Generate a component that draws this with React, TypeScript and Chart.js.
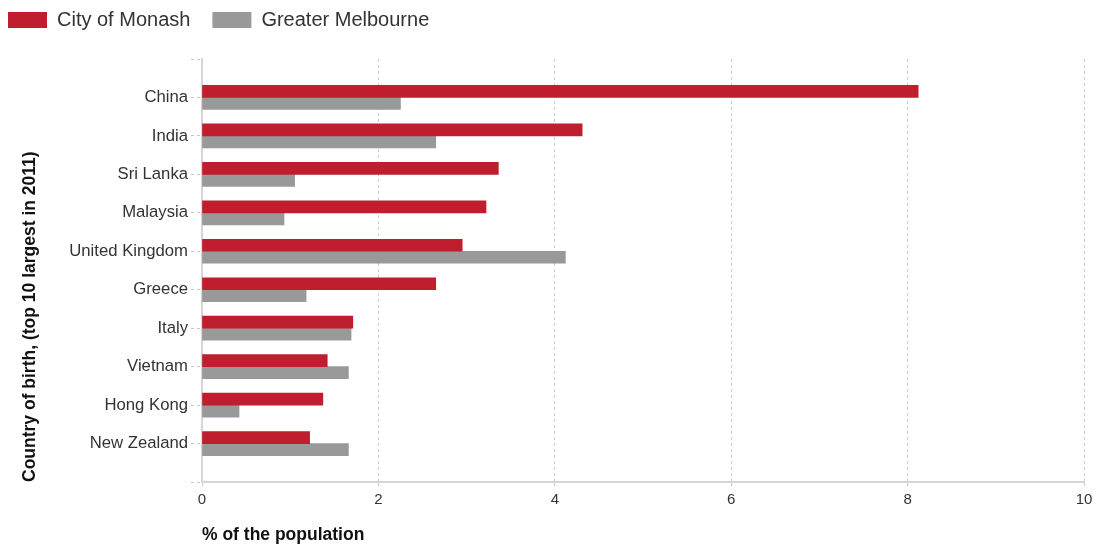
import React, { useEffect, useRef } from 'react';
import { Chart, registerables } from 'chart.js';

Chart.register(...registerables);
Chart.defaults.font.family = "'Liberation Sans', Arial, sans-serif";

const categories = ['China', 'India', 'Sri Lanka', 'Malaysia', 'United Kingdom', 'Greece', 'Italy', 'Vietnam', 'Hong Kong', 'New Zealand'];
const monash = [8.12, 4.31, 3.36, 3.22, 2.95, 2.65, 1.71, 1.42, 1.37, 1.22];
const melbourne = [2.25, 2.65, 1.05, 0.93, 4.12, 1.18, 1.69, 1.66, 0.42, 1.66];
const seriesNames = ['City of Monash', 'Greater Melbourne'];
const seriesColors = ['#BE1E2D', '#999999'];
const xMin = 0;
const xMax = 10;
const xStep = 2;
const xTitle = '% of the population';
const yTitle = 'Country of birth, (top 10 largest in 2011)';

const legendGap = {
  id: 'legendGap',
  beforeLayout(chart: any) {
    const lg: any = chart.legend;
    if (lg && !lg.__gap) {
      const orig = lg.fit;
      lg.fit = function () {
        orig.call(this);
        this.height += 19;
      };
      lg.__gap = true;
    }
  },
};

export default function App() {
  const ref = useRef<HTMLCanvasElement>(null);

  useEffect(() => {
    if (!ref.current) return;
    const labels = ['', ...categories, ''];
    const chart = new Chart(ref.current, {
      type: 'bar',
      data: {
        labels,
        datasets: [
          {
            label: seriesNames[0],
            data: [null, ...monash, null],
            backgroundColor: seriesColors[0],
            borderWidth: 0,
            barThickness: 12,
          },
          {
            label: seriesNames[1],
            data: [null, ...melbourne, null],
            backgroundColor: seriesColors[1],
            borderWidth: 0,
            barThickness: 12,
          },
        ],
      },
      options: {
        indexAxis: 'y',
        responsive: false,
        animation: false,
        layout: { padding: { left: -14, top: -12, right: 13, bottom: 0 } },
        plugins: {
          legend: {
            position: 'top',
            align: 'start',
            labels: {
              boxWidth: 39,
              boxHeight: 16,
              padding: 22,
              color: '#333',
              font: { size: 20 },
            },
          },
          tooltip: { enabled: false },
        },
        scales: {
          x: {
            type: 'linear',
            min: xMin,
            max: xMax,
            ticks: { stepSize: xStep, color: '#333', font: { size: 15 }, padding: 3 },
            grid: {
              color: '#cccccc',
              lineWidth: 1,
              drawTicks: true,
              tickLength: 6,
              tickColor: '#cccccc',
              tickBorderDash: [3, 3],
            },
            border: { display: true, color: '#d6d6d6', width: 2, dash: [3, 3] },
            title: {
              display: true,
              text: xTitle,
              align: 'start',
              color: '#111',
              font: { size: 17.5, weight: 'bold' },
              padding: { top: 12.5, bottom: 2.5 },
            },
          },
          y: {
            type: 'category',
            offset: false,
            grid: {
              display: true,
              offset: false,
              drawOnChartArea: false,
              drawTicks: true,
              tickLength: 11,
              tickColor: '#c8c8c8',
              tickBorderDash: [3, 3],
              tickWidth: 1,
            },
            border: { display: true, color: '#d6d6d6', width: 2 },
            ticks: { color: '#333', font: { size: 16.7 }, padding: 3, autoSkip: false },
            title: {
              display: true,
              text: yTitle,
              align: 'start',
              color: '#111',
              font: { size: 17.5, weight: 'bold' },
              padding: { top: 34, bottom: 0 },
            },
            afterFit: (s: any) => {
              s.width = 216;
            },
          },
        },
      } as any,
      plugins: [legendGap],
    });
    return () => chart.destroy();
  }, []);

  return (
    <div style={{ position: 'absolute', left: 0, top: 0, width: 1097, height: 548 }}>
      <canvas ref={ref} width={1097} height={548} style={{ display: 'block' }} />
    </div>
  );
}
